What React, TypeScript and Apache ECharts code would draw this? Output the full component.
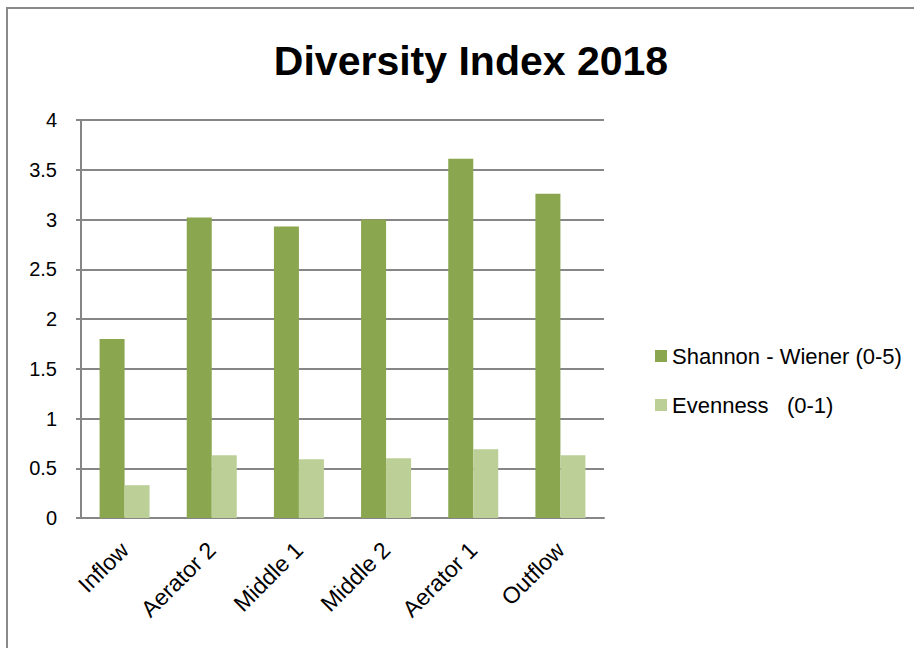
import React, { useEffect, useRef } from "react";
import * as echarts from "echarts";

const categories = ["Inflow", "Aerator 2", "Middle 1", "Middle 2", "Aerator 1", "Outflow"];
const shannon = [1.8, 3.02, 2.93, 3.0, 3.61, 3.26];
const evenness = [0.33, 0.63, 0.59, 0.6, 0.69, 0.63];
const seriesNames = ["Shannon - Wiener (0-5)", "Evenness   (0-1)"];
const titleText = "Diversity Index 2018";

const FONT = "'Liberation Sans', Arial, sans-serif";

export default function App() {
  const ref = useRef<HTMLDivElement>(null);
  useEffect(() => {
    if (!ref.current) return;
    const chart = echarts.init(ref.current, undefined, { renderer: "svg" });
    chart.setOption({
      animation: false,
      backgroundColor: "#ffffff",
      title: {
        text: titleText,
        left: 466,
        textAlign: "center",
        top: 35,
        textStyle: {
          fontFamily: "'Liberation Sans Narrow', 'Liberation Sans', Arial, sans-serif",
          fontWeight: "bold",
          fontSize: 41,
          color: "#000000",
        },
      },
      legend: {
        orient: "vertical",
        left: 650,
        top: 340,
        itemWidth: 12,
        itemHeight: 12,
        itemGap: 27,
        icon: "rect",
        textStyle: { fontFamily: FONT, fontSize: 22, color: "#000000" },
        data: seriesNames,
      },
      grid: { left: 81, right: 310, top: 120, bottom: 130, containLabel: false },
      xAxis: {
        type: "category",
        data: categories,
        axisLine: { show: true, lineStyle: { color: "#868686", width: 2 } },
        axisTick: { show: false },
        axisLabel: {
          rotate: 45,
          interval: 0,
          margin: 28,
          fontFamily: FONT,
          fontSize: 23,
          color: "#000000",
        },
      },
      yAxis: {
        type: "value",
        min: 0,
        max: 4,
        interval: 0.5,
        axisLine: { show: true, lineStyle: { color: "#868686", width: 2 } },
        axisTick: { show: true, length: 5, lineStyle: { color: "#868686", width: 2 } },
        splitLine: { show: true, lineStyle: { color: "#868686", width: 2 } },
        axisLabel: {
          margin: 24,
          fontFamily: FONT,
          fontSize: 20,
          color: "#000000",
        },
      },
      series: [
        {
          name: seriesNames[0],
          type: "bar",
          data: shannon,
          barWidth: 25,
          barGap: "0%",
          itemStyle: { color: "#8AA64F" },
        },
        {
          name: seriesNames[1],
          type: "bar",
          data: evenness,
          barWidth: 25,
          barGap: "0%",
          itemStyle: { color: "#BBCF97" },
        },
      ],
      graphic: [
        {
          type: "polyline",
          shape: { points: [[7, 648], [7, 8], [914, 8]] },
          style: { stroke: "#8a8a8a", lineWidth: 2, fill: "none" },
          silent: true,
        },
      ],
    });
    return () => chart.dispose();
  }, []);
  return (
    <div
      ref={ref}
      style={{ position: "fixed", left: 0, top: 0, width: 914, height: 648 }}
    />
  );
}
